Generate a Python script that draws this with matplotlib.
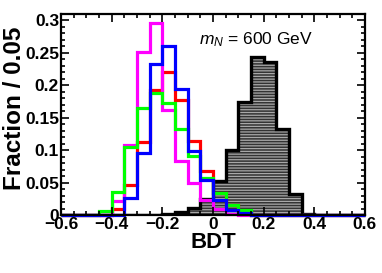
import numpy as np
import matplotlib
matplotlib.use("Agg")
import matplotlib.pyplot as plt
from matplotlib.ticker import MultipleLocator, FormatStrFormatter

# Bin edges of the BDT histograms (24 bins, width 0.05)
bin_edges = np.round(np.arange(-0.6, 0.6001, 0.05), 3)

# Fractions per bin
signal_black = [0, 0, 0, 0, 0, 0, 0, 0, 0.002, 0.005, 0.011, 0.025,
                0.053, 0.100, 0.174, 0.243, 0.236, 0.133, 0.032, 0.002, 0, 0, 0, 0]
bkg_red = [0, 0, 0, 0, 0.009, 0.046, 0.113, 0.193, 0.220, 0.178, 0.114, 0.068,
           0.034, 0.015, 0.005, 0, 0, 0, 0, 0, 0, 0, 0, 0]
bkg_magenta = [0, 0, 0, 0, 0.022, 0.108, 0.251, 0.296, 0.162, 0.084, 0.049, 0.023,
               0.009, 0.002, 0, 0, 0, 0, 0, 0, 0, 0, 0, 0]
bkg_green = [0, 0, 0, 0.006, 0.036, 0.105, 0.165, 0.188, 0.173, 0.133, 0.091, 0.057,
             0.034, 0.015, 0.008, 0, 0, 0, 0, 0, 0, 0, 0, 0]
bkg_blue = [0, 0, 0, 0, 0, 0.027, 0.096, 0.233, 0.260, 0.195, 0.099, 0.054,
            0.024, 0.008, 0.004, 0, 0, 0, 0, 0, 0, 0, 0, 0]

x_ticks = [-0.6, -0.4, -0.2, 0, 0.2, 0.4, 0.6]
x_tick_labels = ["\u22120.6", "\u22120.4", "\u22120.2", "0", "0.2", "0.4", "0.6"]

plt.rcParams["font.family"] = ["Liberation Sans", "DejaVu Sans"]
plt.rcParams["mathtext.fontset"] = "custom"
plt.rcParams["mathtext.it"] = "Liberation Sans:italic"
plt.rcParams["mathtext.rm"] = "Liberation Sans"
plt.rcParams["hatch.linewidth"] = 0.9

fig = plt.figure(figsize=(3.82, 2.73), dpi=100)
ax = fig.add_axes([0.160, 0.212, 0.795, 0.737])

# Signal: filled, hatched, thick black outline
ax.stairs(signal_black, bin_edges, fill=True, facecolor="#333333",
          edgecolor="#a8a8a8", hatch="------", linewidth=0)
ax.stairs(signal_black, bin_edges, color="black", linewidth=2.4)

# Backgrounds (drawn unclipped so the zero level shows on the frame)
lw = 2.3
ax.stairs(bkg_red, bin_edges, color="#ff0000", linewidth=lw, clip_on=False)
ax.stairs(bkg_magenta, bin_edges, color="#ff00ff", linewidth=lw, clip_on=False)
ax.stairs(bkg_green, bin_edges, color="#00ff00", linewidth=lw, clip_on=False)
ax.stairs(bkg_blue, bin_edges, color="#0000ff", linewidth=lw, clip_on=False)

ax.set_xlim(-0.6, 0.6)
ax.set_ylim(0, 0.31)

ax.set_xticks(x_ticks)
ax.set_xticklabels(x_tick_labels)
ax.xaxis.set_minor_locator(MultipleLocator(0.05))
ax.yaxis.set_major_locator(MultipleLocator(0.05))
ax.yaxis.set_minor_locator(MultipleLocator(0.01))
ax.yaxis.set_major_formatter(FormatStrFormatter("%g"))

ax.tick_params(which="both", direction="in", top=True, right=True,
               width=1.2, colors="black")
ax.tick_params(which="major", length=6, labelsize=12.5, pad=1.5)
ax.tick_params(which="minor", length=3)
for lab in ax.get_xticklabels() + ax.get_yticklabels():
    lab.set_fontweight("bold")
for sp in ax.spines.values():
    sp.set_linewidth(1.6)

ax.set_xlabel("BDT", fontsize=16, fontweight="bold", labelpad=0)
ax.set_ylabel("Fraction / 0.05", fontsize=17.5, fontweight="bold")
ax.yaxis.set_label_coords(-0.117, 0.53)

ax.text(0.455, 0.85, r"$m_N$ = 600 GeV", transform=ax.transAxes,
        fontsize=12.5)

fig.savefig("out.png", dpi=100)
